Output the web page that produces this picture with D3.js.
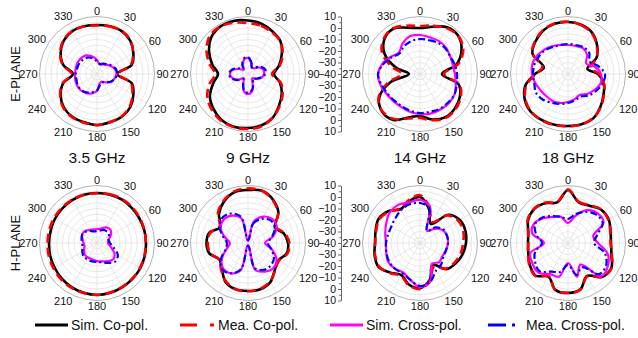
<!DOCTYPE html>
<html>
<head>
<meta charset="utf-8">
<script src="https://cdn.jsdelivr.net/npm/d3@7/dist/d3.min.js"></script>
<style>
  body { margin: 0; background: #fff; }
  text { font-family: "Liberation Sans", Arial, sans-serif; fill: #111; }
</style>
</head>
<body>
<svg id="chart" width="638" height="338"></svg>
<script>
// angles of every sample, degrees clockwise from top
const angles = d3.range(0, 360, 15);
const angleTicks = d3.range(0, 360, 30);
const radialTicks = [10, 0, -10, -20, -30, -40];
const freqs = ['3.5 GHz', '9 GHz', '14 GHz', '18 GHz'];
const planes = ['E-PLANE', 'H-PLANE'];
const seriesNames = ['Sim. Co-pol.', 'Mea. Co-pol.', 'Sim. Cross-pol.', 'Mea. Cross-pol.'];

// E-plane, dB
const e35SimCo = [2.6, 3.0, 3.0, 0.9, -3.5, -8.7, -22.6, -8.7, -3.5, 0.9, 3.0, 3.5, 4.3, 3.5, 3.0, 0.9, -3.5, -9.6, -19.1, -9.6, -3.5, 0.9, 3.0, 3.0];
const e35MeaCo = [2.2, 2.8, 3.2, 1.2, -3.8, -9.5, -21.5, -9.5, -4.5, 0.2, 2.6, 3.3, 4.5, 3.8, 3.4, 1.5, -3.0, -9.0, -18.0, -9.0, -3.0, 1.3, 3.2, 2.8];
const e35SimX = [-27.8, -31.3, -30.4, -28.7, -26.1, -23.9, -23.0, -24.3, -26.1, -29.6, -32.2, -31.3, -25.2, -22.6, -20.9, -20.0, -20.0, -20.4, -20.9, -20.9, -20.4, -20.4, -21.3, -24.3];
const e35MeaX = [-29.0, -31.0, -29.5, -28.0, -25.5, -23.0, -22.5, -24.0, -26.5, -30.0, -31.5, -30.0, -25.8, -23.5, -21.5, -20.5, -20.6, -21.5, -21.5, -22.0, -22.0, -22.5, -23.5, -26.0];

const e9SimCo = [6.5, 5.2, 2.6, 0.0, -6.1, -12.2, -17.4, -11.3, -6.1, -1.7, 3.5, 6.1, 7.0, 7.4, 6.1, 2.6, -1.7, -8.7, -13.9, -7.8, -0.9, 5.2, 7.8, 7.8];
const e9MeaCo = [4.3, 3.5, 1.7, 0.0, -5.2, -11.3, -19.1, -10.4, -5.2, -0.9, 3.5, 7.0, 7.8, 7.8, 7.0, 4.3, 0.9, -5.2, -11.3, -5.2, 1.7, 7.0, 7.8, 6.1];
const e9SimX = [-26.1, -29.6, -33.0, -33.0, -28.7, -26.1, -26.1, -27.8, -31.3, -34.8, -32.2, -25.2, -22.6, -25.2, -32.2, -34.8, -30.4, -26.1, -24.3, -26.1, -31.3, -34.8, -31.3, -27.0];
const e9MeaX = [-25.5, -29.0, -33.5, -32.0, -27.5, -24.5, -25.0, -28.5, -32.0, -34.0, -31.0, -26.0, -23.5, -26.0, -31.5, -34.0, -29.5, -25.0, -23.5, -25.5, -30.0, -33.5, -30.0, -26.0];

const e14SimCo = [0.0, 2.6, 7.0, 7.0, 1.7, -7.0, -20.9, -5.2, 0.0, 2.6, 3.5, 0.9, -3.5, -0.9, 6.1, 6.5, 0.9, -13.9, -30.4, -18.3, -4.3, 3.5, 5.7, 1.7];
const e14MeaCo = [1.7, 3.5, 6.1, 7.0, 3.5, -5.2, -19.1, -4.3, 0.9, 3.5, 4.3, 1.7, -1.7, 0.0, 5.2, 6.1, 1.7, -11.3, -24.3, -13.9, -1.7, 4.3, 6.1, 3.5];
const e14SimX = [-6.1, -7.0, -7.0, -7.8, -9.6, -10.4, -9.6, -7.8, -5.2, -4.3, -4.3, -4.3, -5.2, -6.1, -7.0, -7.0, -6.1, -4.3, -3.5, -6.1, -10.4, -13.9, -9.6, -6.1];
const e14MeaX = [-9.6, -9.6, -8.7, -8.7, -9.6, -8.7, -7.8, -7.0, -5.2, -5.2, -5.2, -6.1, -6.1, -7.0, -7.8, -7.8, -7.0, -5.2, -3.5, -7.0, -11.3, -14.8, -12.2, -10.4];

const e18SimCo = [5.2, 4.3, 1.7, -4.3, -11.3, -22.6, -13.9, -7.8, -4.3, 0.0, 4.3, 5.2, 5.2, 5.7, 6.1, 6.1, 3.5, -1.7, -11.3, -18.3, -4.3, 0.0, 3.5, 5.2];
const e18MeaCo = [5.5, 4.0, 1.2, -4.8, -11.0, -20.0, -13.0, -7.5, -4.0, 0.5, 4.0, 5.5, 5.5, 6.0, 6.3, 5.8, 3.0, -2.5, -12.0, -17.0, -4.0, 0.5, 3.8, 5.5];
const e18SimX = [-14.8, -14.8, -13.9, -16.5, -21.7, -15.7, -11.3, -10.4, -13.0, -15.7, -19.1, -17.4, -15.7, -13.9, -13.0, -13.0, -12.2, -10.4, -8.7, -7.8, -8.7, -10.4, -12.2, -13.9];
const e18MeaX = [-13.9, -13.9, -13.0, -13.9, -18.3, -13.0, -7.8, -8.7, -11.3, -13.9, -17.4, -16.5, -14.8, -13.0, -11.3, -8.7, -7.8, -9.6, -9.6, -9.6, -10.4, -11.3, -13.0, -13.9];

// H-plane, dB
const h35SimCo = [3.5, 3.5, 3.5, 3.0, 2.6, 2.6, 2.6, 3.0, 3.5, 3.9, 4.3, 4.8, 5.2, 4.8, 4.3, 3.5, 2.6, 2.2, 1.7, 1.7, 2.2, 2.6, 3.0, 3.5];
const h35MeaCo = [3.3, 3.8, 4.0, 3.6, 3.0, 2.8, 2.4, 2.6, 3.2, 3.6, 4.0, 4.6, 5.0, 5.0, 4.8, 4.4, 3.8, 3.4, 3.0, 3.0, 3.2, 3.2, 3.4, 3.4];
const h35SimX = [-27.8, -27.0, -24.3, -23.5, -26.1, -29.6, -30.4, -27.8, -22.6, -20.0, -21.7, -23.5, -24.3, -25.2, -25.2, -25.2, -27.0, -28.7, -28.3, -27.0, -25.2, -25.2, -27.0, -27.8];
const h35MeaX = [-29.6, -28.7, -27.0, -27.0, -27.8, -29.6, -28.7, -25.2, -19.1, -17.4, -20.0, -22.6, -23.5, -23.5, -23.5, -23.5, -25.2, -27.0, -27.0, -26.1, -25.2, -26.1, -27.8, -29.6];

const h9SimCo = [6.1, 7.0, 3.5, -2.6, -13.0, -7.8, -5.2, -5.2, -9.6, -7.0, -0.9, 1.7, 1.7, 1.7, -0.9, -7.8, -11.3, -5.2, -3.9, -5.2, -12.2, -4.3, 1.7, 5.7];
const h9MeaCo = [7.5, 7.0, 3.0, -3.0, -12.0, -7.0, -4.0, -4.5, -9.0, -6.5, -1.5, 1.2, 2.0, 1.5, -1.5, -7.0, -11.0, -6.0, -5.0, -6.0, -11.5, -3.0, 2.5, 6.5];
const h9SimX = [-38.3, -20.9, -13.5, -10.4, -11.3, -17.4, -25.2, -18.5, -11.3, -8.9, -11.3, -15.7, -38.3, -15.7, -9.6, -9.2, -13.9, -20.9, -24.3, -18.8, -12.3, -10.7, -12.5, -17.8];
const h9MeaX = [-37.4, -22.6, -15.7, -12.2, -13.0, -18.3, -22.6, -19.1, -13.9, -12.2, -13.0, -17.4, -37.4, -16.5, -9.6, -7.8, -13.0, -20.0, -21.7, -17.4, -11.3, -8.7, -10.4, -16.5];

const h14SimCo = [0.0, -9.6, -20.9, -5.2, 0.0, 0.9, 0.0, -1.7, -4.3, -7.8, -18.3, -7.0, -0.9, -2.6, -7.8, -3.5, 1.7, 0.9, -0.9, 0.0, 1.7, -0.9, -6.1, -2.6];
const h14MeaCo = [1.5, -8.0, -19.0, -6.0, -1.5, -1.0, -2.5, -3.5, -5.5, -8.5, -16.0, -6.0, 0.0, -2.0, -7.0, -3.0, 1.0, 0.5, -1.0, -0.5, 1.0, -1.5, -5.5, -1.5];
const h14SimX = [-2.6, -7.0, -27.8, -22.6, -17.4, -15.7, -15.7, -16.5, -17.4, -16.5, -19.1, -5.2, -1.7, -7.0, -10.4, -8.7, -7.8, -9.6, -10.4, -8.7, -6.1, -2.6, -1.7, -3.5];
const h14MeaX = [-5.2, -8.7, -27.8, -20.9, -16.5, -15.7, -15.7, -16.5, -16.5, -13.9, -12.2, -5.2, -2.6, -7.0, -9.6, -8.7, -8.7, -9.6, -10.4, -11.3, -11.3, -9.6, -7.0, -5.2];

const h18SimCo = [6.1, -3.5, -2.6, 0.9, 0.9, -1.7, -2.6, -0.9, 3.5, 1.7, -7.0, 1.7, 3.5, 2.2, -6.1, 0.0, -1.7, -4.3, -5.2, -4.3, 0.0, 1.7, 0.0, -3.5];
const h18MeaCo = [6.5, -3.0, -2.0, 1.2, 0.5, -2.0, -3.0, -0.5, 3.8, 1.5, -6.5, 2.0, 3.2, 2.5, -6.5, 0.3, -1.2, -4.0, -5.5, -4.0, 0.5, 2.0, 0.5, -3.0];
const h18SimX = [-22.6, -15.7, -7.0, -3.5, -4.3, -17.4, -13.9, -4.3, 0.0, 0.9, -18.3, -9.6, -22.6, -9.6, -8.7, -3.5, -4.3, -6.1, -19.1, -7.8, -6.1, -9.6, -13.9, -16.5];
const h18MeaX = [-19.1, -13.9, -8.7, -5.2, -5.2, -13.9, -17.4, -7.0, -1.7, -1.7, -15.7, -11.3, -20.9, -13.9, -11.3, -5.2, -7.0, -10.4, -17.4, -11.3, -7.0, -8.7, -13.0, -16.5];

const panels = [
  [[e35SimCo, e35MeaCo, e35SimX, e35MeaX], [e9SimCo, e9MeaCo, e9SimX, e9MeaX],
   [e14SimCo, e14MeaCo, e14SimX, e14MeaX], [e18SimCo, e18MeaCo, e18SimX, e18MeaX]],
  [[h35SimCo, h35MeaCo, h35SimX, h35MeaX], [h9SimCo, h9MeaCo, h9SimX, h9MeaX],
   [h14SimCo, h14MeaCo, h14SimX, h14MeaX], [h18SimCo, h18MeaCo, h18SimX, h18MeaX]]
];

const styles = [
  { color: '#000000', width: 2.6, dash: null,      legendDash: null },
  { color: '#ff0000', width: 2.6, dash: '9,5',     legendDash: '17,13' },
  { color: '#ff00ff', width: 2.2, dash: null,      legendDash: null },
  { color: '#0000ff', width: 2.2, dash: '7,3,2,3', legendDash: '18,6,3,20' }
];

const svg = d3.select('#chart');
const R = 57.5;
const cxs = [97, 248, 420, 568];
const cys = [74, 243];
const axisX = 341;
const r = d3.scaleLinear().domain([-40, 10]).range([0, R]);
const rad = a => a * Math.PI / 180;

const line = d3.lineRadial()
  .angle((d, i) => rad(angles[i]))
  .radius(d => r(d))
  .curve(d3.curveCatmullRomClosed.alpha(0.5));

const labelSize = 11;
const axisSize = 10.5;

// centre of an angle label, pushed out by half its box
function labelPos(d) {
  const w = String(d).length * 0.556 * labelSize, h = 0.72 * labelSize;
  const s = Math.sin(rad(d)), c = Math.cos(rad(d));
  const dist = R + 2 + Math.abs(s) * w / 2 + Math.abs(c) * h / 2;
  return [dist * s, -dist * c];
}

panels.forEach((row, ri) => {
  row.forEach((curves, ci) => {
    const g = svg.append('g').attr('transform', `translate(${cxs[ci]},${cys[ri]})`);

    // grid circles every 5 dB
    g.selectAll('.ring')
      .data(d3.range(-35, 10, 5))
      .enter().append('circle')
      .attr('r', d => r(d))
      .attr('fill', 'none')
      .attr('stroke', '#dedede')
      .attr('stroke-width', 0.7);

    g.selectAll('.spoke')
      .data(angleTicks)
      .enter().append('line')
      .attr('x1', 0).attr('y1', 0)
      .attr('x2', d => R * Math.sin(rad(d)))
      .attr('y2', d => -R * Math.cos(rad(d)))
      .attr('stroke', '#dedede')
      .attr('stroke-width', 0.7);

    g.append('circle')
      .attr('r', R)
      .attr('fill', 'none')
      .attr('stroke', '#aaaaaa')
      .attr('stroke-width', 0.9);

    g.selectAll('.alabel')
      .data(angleTicks)
      .enter().append('text')
      .attr('font-size', labelSize)
      .attr('text-anchor', 'middle')
      .attr('dy', '0.36em')
      .attr('x', d => labelPos(d)[0])
      .attr('y', d => labelPos(d)[1])
      .text(d => d);

    curves.forEach((vals, k) => {
      const st = styles[k];
      g.append('path')
        .datum(vals)
        .attr('d', line)
        .attr('fill', 'none')
        .attr('stroke', st.color)
        .attr('stroke-width', st.width)
        .attr('stroke-dasharray', st.dash)
        .attr('stroke-linejoin', 'round');
    });
  });

  // radial dB axis, only beside the third column
  const cy = cys[ri];
  const yTop = d3.scaleLinear().domain([-40, 10]).range([cy, cy - R]);
  const yBot = d3.scaleLinear().domain([-40, 10]).range([cy, cy + R]);
  const minor = d3.range(-35, 10, 10);

  [yTop, yBot].forEach((ys, half) => {
    const major = half === 0 ? radialTicks : radialTicks.filter(t => t !== -40);
    svg.append('g')
      .attr('transform', `translate(${axisX},0)`)
      .call(d3.axisLeft(ys).tickValues(major).tickSize(3).tickSizeOuter(0).tickPadding(2))
      .call(a => a.select('.domain').attr('stroke', '#666'))
      .call(a => a.selectAll('.tick line').attr('stroke', '#666'))
      .call(a => a.selectAll('.tick text').attr('font-size', axisSize).attr('fill', '#111')
        .attr('font-family', '"Liberation Sans", Arial, sans-serif'));
    svg.append('g')
      .attr('transform', `translate(${axisX},0)`)
      .call(d3.axisLeft(ys).tickValues(minor).tickSize(1.8).tickFormat('').tickSizeOuter(0))
      .call(a => a.select('.domain').attr('stroke', '#666'))
      .call(a => a.selectAll('.tick line').attr('stroke', '#666'));
  });
});

// frequency captions between the rows
svg.selectAll('.freq')
  .data(freqs)
  .enter().append('text')
  .attr('x', (d, i) => cxs[i])
  .attr('y', 162.5)
  .attr('text-anchor', 'middle')
  .attr('font-size', 15.5)
  .text(d => d);

// plane labels
svg.selectAll('.plane')
  .data(planes)
  .enter().append('text')
  .attr('transform', (d, i) => `translate(19.5,${cys[i]}) rotate(-90)`)
  .attr('text-anchor', 'middle')
  .attr('font-size', 13)
  .text(d => d);

// legend
const legendX = [35, 180, 330, 488];
const legend = svg.selectAll('.leg')
  .data(seriesNames)
  .enter().append('g')
  .attr('transform', (d, i) => `translate(${legendX[i]},325)`);

legend.append('line')
  .attr('x1', 0).attr('x2', (d, i) => i % 2 === 0 ? 33 : 34)
  .attr('y1', 0).attr('y2', 0)
  .attr('stroke', (d, i) => styles[i].color)
  .attr('stroke-width', 3)
  .attr('stroke-dasharray', (d, i) => styles[i].legendDash);

legend.append('text')
  .attr('x', (d, i) => i % 2 === 0 ? 36 : 38)
  .attr('y', 5)
  .attr('font-size', 14)
  .text(d => d);
</script>
</body>
</html>
